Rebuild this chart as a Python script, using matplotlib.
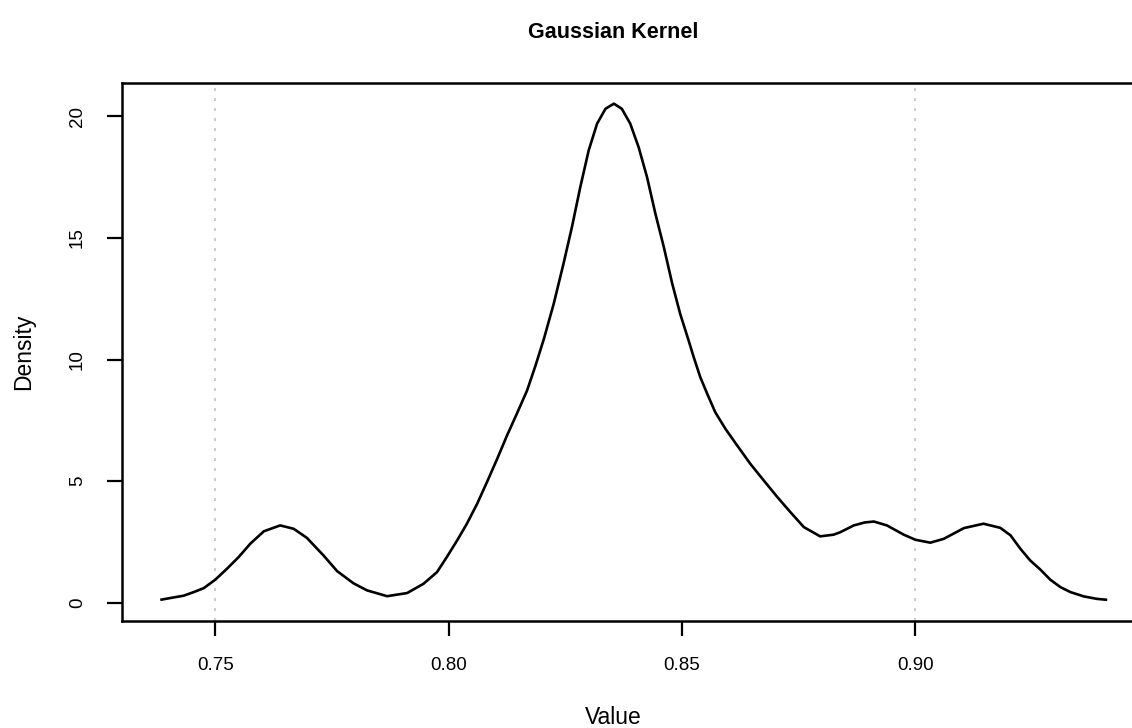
import matplotlib
matplotlib.use("Agg")
import matplotlib.pyplot as plt

# Density curve (x = value, y = density)
value = [0.7382, 0.7411, 0.7432, 0.7454, 0.7475, 0.7500, 0.7525, 0.7550, 0.7575,
         0.7604, 0.7639, 0.7668, 0.7696, 0.7732, 0.7761, 0.7796, 0.7825, 0.7868,
         0.7911, 0.7946, 0.7975, 0.7996, 0.8018, 0.8039, 0.8061, 0.8082, 0.8104,
         0.8125, 0.8146, 0.8168, 0.8186, 0.8204, 0.8225, 0.8246, 0.8264, 0.8282,
         0.8300, 0.8318, 0.8336, 0.8354, 0.8371, 0.8389, 0.8407, 0.8425, 0.8443,
         0.8461, 0.8479, 0.8496, 0.8514, 0.8525, 0.8539, 0.8554, 0.8571, 0.8593,
         0.8618, 0.8646, 0.8675, 0.8704, 0.8732, 0.8761, 0.8796, 0.8825, 0.8839,
         0.8868, 0.8891, 0.8911, 0.8939, 0.8975, 0.9000, 0.9032, 0.9061, 0.9104,
         0.9146, 0.9182, 0.9204, 0.9225, 0.9246, 0.9268, 0.9289, 0.9311, 0.9332,
         0.9361, 0.9389, 0.9411]
density = [0.12, 0.22, 0.29, 0.44, 0.60, 0.95, 1.40, 1.88, 2.43,
           2.94, 3.18, 3.04, 2.67, 1.94, 1.30, 0.80, 0.51, 0.27,
           0.40, 0.78, 1.26, 1.88, 2.56, 3.25, 4.07, 4.96, 5.92,
           6.88, 7.77, 8.73, 9.75, 10.85, 12.29, 13.94, 15.44, 17.09,
           18.60, 19.70, 20.31, 20.52, 20.31, 19.70, 18.73, 17.50, 15.99,
           14.62, 13.12, 11.88, 10.79, 10.10, 9.28, 8.59, 7.84, 7.15,
           6.47, 5.72, 5.03, 4.35, 3.73, 3.11, 2.73, 2.80, 2.90,
           3.18, 3.30, 3.34, 3.18, 2.80, 2.59, 2.47, 2.63, 3.07,
           3.25, 3.08, 2.77, 2.22, 1.74, 1.36, 0.95, 0.64, 0.44,
           0.26, 0.16, 0.12]

x_ticks = [0.75, 0.80, 0.85, 0.90]
x_tick_labels = ["0.75", "0.80", "0.85", "0.90"]
y_ticks = [0, 5, 10, 15, 20]
y_tick_labels = ["0", "5", "10", "15", "20"]
grid_x = [0.75, 0.90]

plt.rcParams['font.family'] = ['Liberation Sans', 'DejaVu Sans']

W, H = 1132, 728
fig = plt.figure(figsize=(W / 100, H / 100), dpi=100)
# axes box (its right edge lies beyond the canvas, as in the reference)
ax = fig.add_axes([122 / W, 1 - 621 / H, 1023 / W, 538 / H])

for gx in grid_x:
    ax.axvline(gx, color='#cccccc', lw=1.5, linestyle=(0, (1.4, 3.4)),
               dash_capstyle='butt', zorder=1)

ax.plot(value, density, color='black', lw=1.9, zorder=3,
        solid_joinstyle='round', solid_capstyle='butt')

ax.set_xlim(0.7300, 0.9492)
ax.set_ylim(-0.75, 21.37)

ax.set_xticks(x_ticks)
ax.set_xticklabels(x_tick_labels)
ax.set_yticks(y_ticks)
ax.set_yticklabels(y_tick_labels, rotation=90, va='center')

ax.tick_params(axis='both', direction='out', length=11, width=1.6,
               labelsize=13.5, colors='black')
ax.tick_params(axis='x', pad=15)
ax.tick_params(axis='y', pad=15)

for s in ax.spines.values():
    s.set_linewidth(1.8)
    s.set_color('black')

fig.text(613 / W, 1 - 33 / H, "Gaussian Kernel", ha='center', va='center',
         fontsize=15.5, fontweight='bold')
fig.text(613 / W, 1 - 717 / H, "Value", ha='center', va='center', fontsize=16.5)
fig.text(24 / W, 1 - 352 / H, "Density", ha='center', va='center',
         fontsize=16.5, rotation=90)

fig.savefig("out.png", dpi=100, facecolor='white')
